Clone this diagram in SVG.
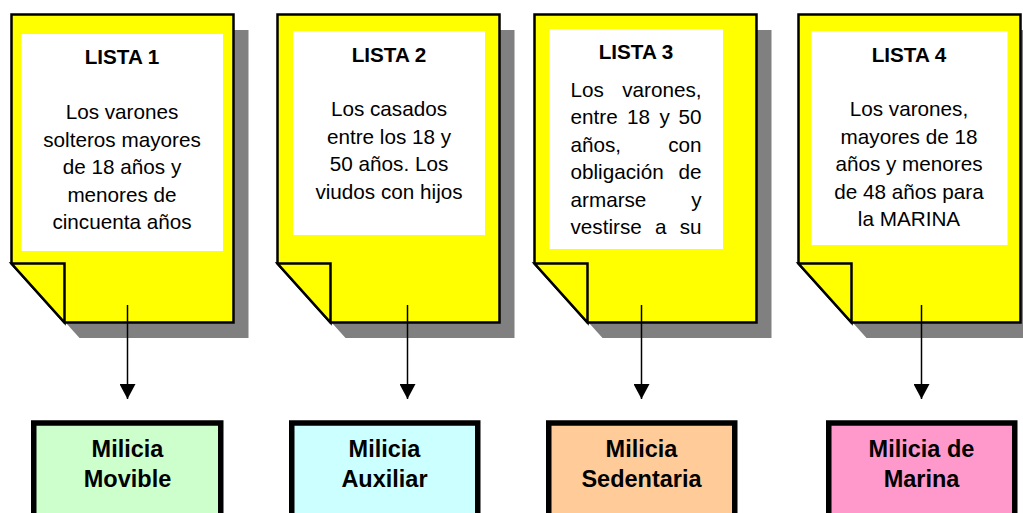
<svg xmlns="http://www.w3.org/2000/svg" width="1023" height="513" viewBox="0 0 1023 513">
<defs>
<path id="shadow" d="M0 0H222V308H53L0 249Z" fill="#808080"/>
<path id="page" d="M0 0H222V308H53L0 249Z" fill="#ffff00" stroke="#000" stroke-width="2.5"/>
<path id="fold" d="M0 249H53V308Z" fill="#ffff00" stroke="#000" stroke-width="2.5"/>
<marker id="arrow" markerUnits="userSpaceOnUse" markerWidth="16" markerHeight="16" refX="15" refY="8" orient="auto"><path d="M0 0L15 8L0 16Z" fill="#000"/></marker>
</defs>
<style>
text{font-family:"Liberation Sans",Arial,sans-serif;fill:#000}
.t{font-size:20.7px;text-anchor:middle}
.h{font-size:20.7px;font-weight:bold;text-anchor:middle}
.m{font-size:23.5px;font-weight:bold;text-anchor:middle}
.j{font-size:20.7px}
.e{text-anchor:end}
.box{stroke:#000;stroke-width:5.5}
.wrap{fill:#fff}
.conn{stroke:#000;stroke-width:1.5;fill:none;marker-end:url(#arrow)}
</style>
<g id="lista1">
<use href="#shadow" x="26.5" y="30"/><use href="#page" x="11.5" y="14.5"/><use href="#fold" x="11.5" y="14.5"/>
<rect class="wrap" x="21.5" y="34" width="201.5" height="217"/>
<text class="h" x="122" y="64">LISTA 1</text>
<text class="t" x="122" y="119">Los varones</text>
<text class="t" x="122" y="147">solteros mayores</text>
<text class="t" x="122" y="174">de 18 años y</text>
<text class="t" x="122" y="202">menores de</text>
<text class="t" x="122" y="229">cincuenta años</text>
</g>
<g id="lista2">
<use href="#shadow" x="292.5" y="30"/><use href="#page" x="277.5" y="14.5"/><use href="#fold" x="277.5" y="14.5"/>
<rect class="wrap" x="293" y="31" width="192" height="204"/>
<text class="h" x="389" y="62">LISTA 2</text>
<text class="t" x="389" y="116">Los casados</text>
<text class="t" x="389" y="144">entre los 18 y</text>
<text class="t" x="389" y="171">50 años. Los</text>
<text class="t" x="389" y="199">viudos con hijos</text>
</g>
<g id="lista3">
<use href="#shadow" x="549.5" y="30"/><use href="#page" x="534.5" y="14.5"/><use href="#fold" x="534.5" y="14.5"/>
<rect class="wrap" x="549.5" y="29" width="173.5" height="220"/>
<text class="h" x="636" y="58.500">LISTA 3</text>
<text class="j" x="570.5" y="97">Los</text><text class="j e" x="701.500" y="97">varones,</text>
<text class="j" x="570.5" y="124">entre</text><text class="j" x="627" y="124">18</text><text class="j" x="659.500" y="124">y</text><text class="j e" x="701.500" y="124">50</text>
<text class="j" x="570.5" y="152">años,</text><text class="j e" x="701.500" y="152">con</text>
<text class="j" x="570.5" y="179">obligación</text><text class="j e" x="701.500" y="179">de</text>
<text class="j" x="570.5" y="207">armarse</text><text class="j e" x="701.500" y="207">y</text>
<text class="j" x="570.5" y="234">vestirse</text><text class="j" x="655" y="234">a</text><text class="j e" x="701.500" y="234">su</text>
</g>
<g id="lista4">
<use href="#shadow" x="813.500" y="30"/><use href="#page" x="798.5" y="14.5"/><use href="#fold" x="798.5" y="14.5"/>
<rect class="wrap" x="811.500" y="31" width="196" height="214"/>
<text class="h" x="909" y="62">LISTA 4</text>
<text class="t" x="909" y="116">Los varones,</text>
<text class="t" x="909" y="144">mayores de 18</text>
<text class="t" x="909" y="171">años y menores</text>
<text class="t" x="909" y="199">de 48 años para</text>
<text class="t" x="909" y="226">la MARINA</text>
</g>
<g id="connectors">
<line class="conn" x1="127.500" y1="305" x2="127.500" y2="399"/>
<line class="conn" x1="407.500" y1="305" x2="407.500" y2="399"/>
<line class="conn" x1="641.500" y1="305" x2="641.500" y2="399"/>
<line class="conn" x1="921.500" y1="305" x2="921.500" y2="399"/>
</g>
<g id="milicia-movible">
<rect class="box" x="33.750" y="423" width="187" height="100" fill="#ccffcc"/>
<text class="m" x="127.500" y="457">Milicia</text><text class="m" x="127.500" y="487">Movible</text>
</g>
<g id="milicia-auxiliar">
<rect class="box" x="291.750" y="423" width="186" height="100" fill="#ccffff"/>
<text class="m" x="384.500" y="457">Milicia</text><text class="m" x="384.500" y="487">Auxiliar</text>
</g>
<g id="milicia-sedentaria">
<rect class="box" x="548.750" y="423" width="186" height="100" fill="#ffcc99"/>
<text class="m" x="641.500" y="457">Milicia</text><text class="m" x="641.500" y="487">Sedentaria</text>
</g>
<g id="milicia-marina">
<rect class="box" x="828.750" y="423" width="186" height="100" fill="#ff99cc"/>
<text class="m" x="921.500" y="457">Milicia de</text><text class="m" x="921.500" y="487">Marina</text>
</g>
</svg>
